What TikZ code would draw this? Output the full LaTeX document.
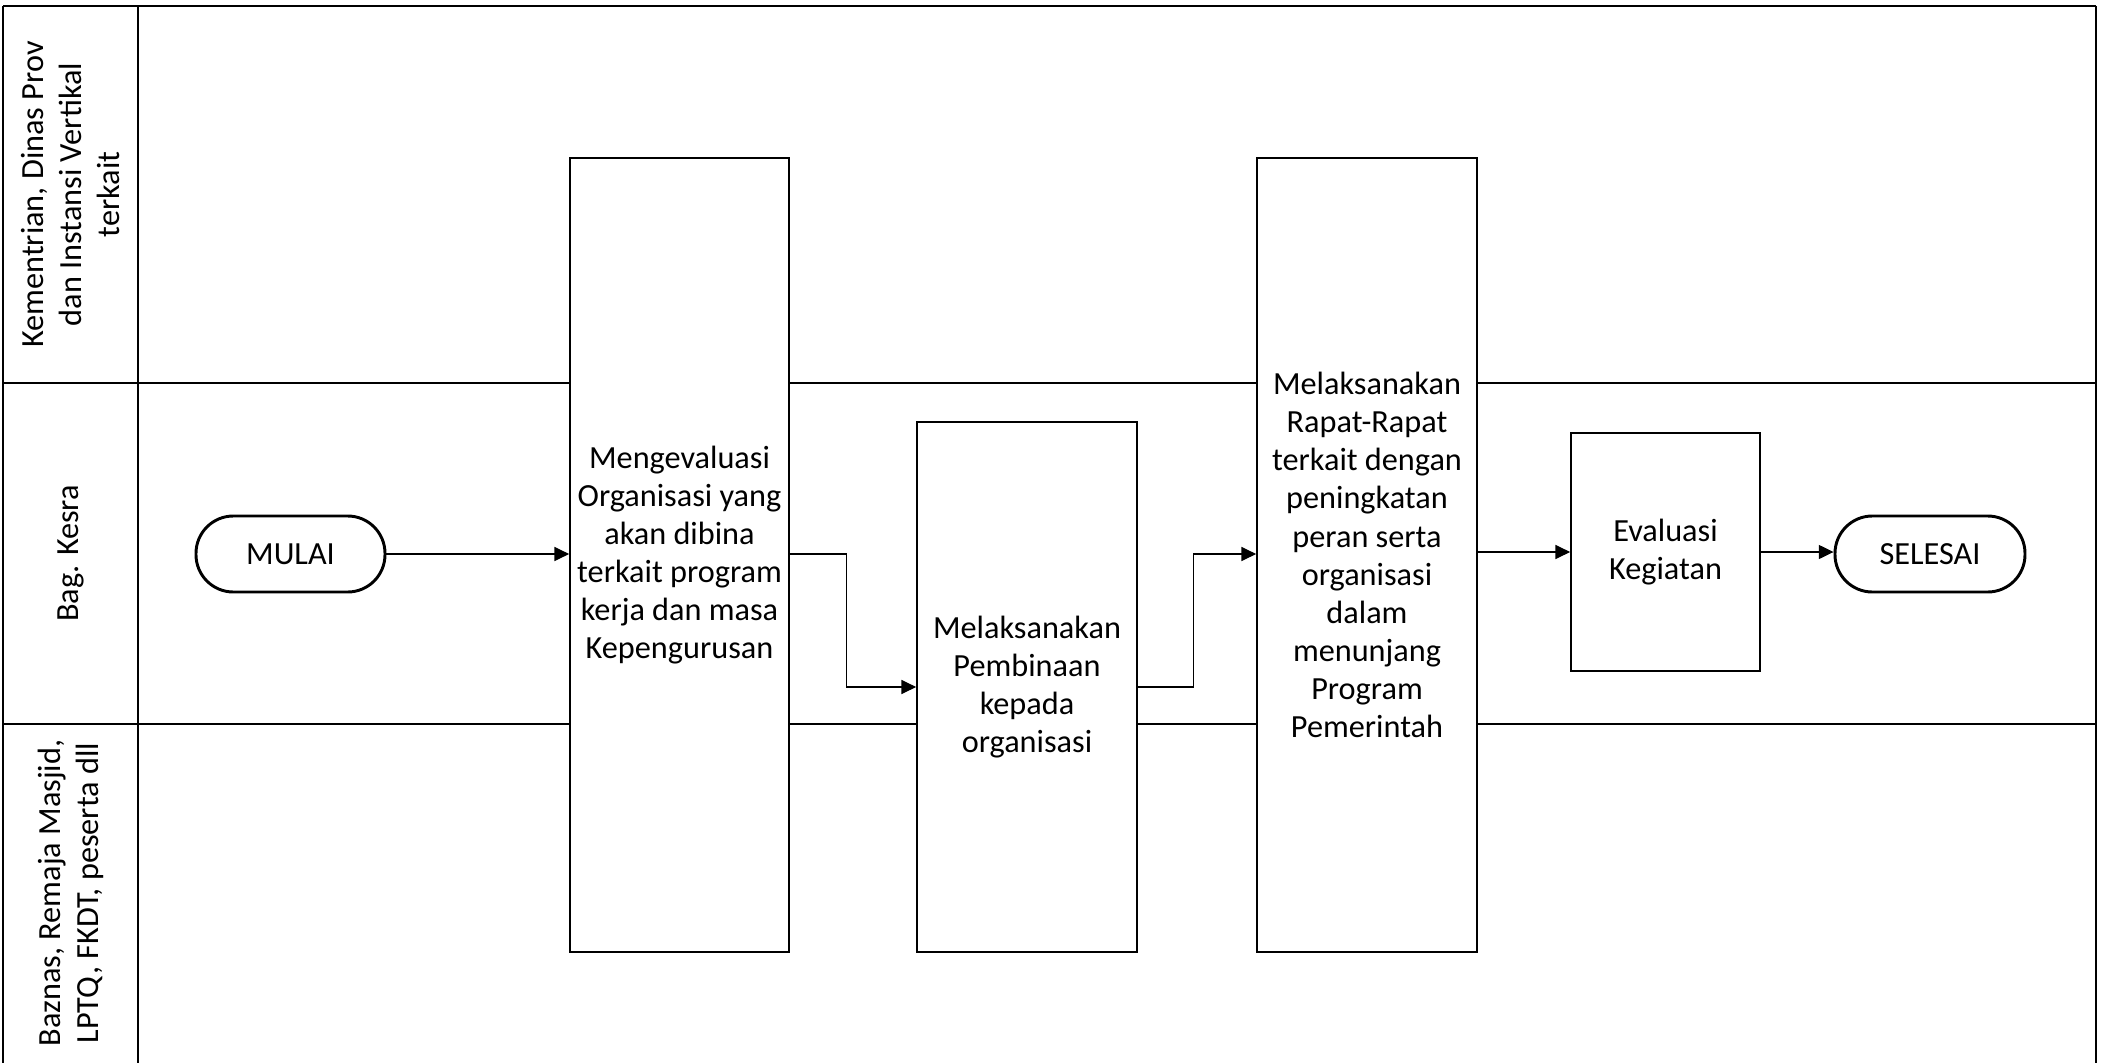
\documentclass[tikz,border=0pt]{standalone}
\usepackage{fontspec}
\setmainfont{Carlito}
\usetikzlibrary{arrows.meta}
\begin{document}
\begin{tikzpicture}[x=0.75pt,y=-0.75pt,
  lane/.style={line width=2pt,draw=black},
  procbox/.style={draw=black,line width=1.3pt,fill=white,rectangle,align=center,inner sep=2pt},
  term/.style={draw=black,line width=2.2pt,fill=white,rounded corners=28pt,align=center,minimum height=57pt},
  lanelabel/.style={rotate=90,align=center},
  arr/.style={draw=black,line width=0.9pt,-{Triangle[length=11pt,width=10.5pt]}},
  every node/.style={font=\fontsize{24.2pt}{28.6pt}\selectfont}
]
\useasboundingbox (0,0) rectangle (2103,1063);
\fill[white] (0,0) rectangle (2103,1063);
% swimlanes
\draw[lane] (3,6) -- (2096,6);
\draw[lane] (3,383) -- (2096,383);
\draw[lane] (3,724) -- (2096,724);
\draw[lane] (3,6) -- (3,1063);
\draw[lane] (138,6) -- (138,1063);
\draw[lane] (2096,6) -- (2096,1063);
\node[lanelabel] (l1) at (70.5,194.5) {Kementrian, Dinas Prov\\dan Instansi Vertikal\\terkait};
\node[lanelabel] (l2) at (70.5,553.5) {Bag. Kesra};
\node[lanelabel] (l3) at (70.5,893) {Baznas, Remaja Masjid,\\LPTQ, FKDT, peserta dll};
% process nodes
\node[term,minimum width=141.75pt] (mulai) at (290.5,554) {MULAI};
\node[procbox,minimum width=164.25pt,minimum height=595.5pt] (b1) at (679.5,555) {Mengevaluasi\\Organisasi yang\\akan dibina\\terkait program\\kerja dan masa\\Kepengurusan};
\node[procbox,minimum width=165pt,minimum height=397.5pt] (b2) at (1027,687) {Melaksanakan\\Pembinaan\\kepada\\organisasi};
\node[procbox,minimum width=165pt,minimum height=595.5pt] (b3) at (1367,555) {Melaksanakan\\Rapat-Rapat\\terkait dengan\\peningkatan\\peran serta\\organisasi\\dalam\\menunjang\\Program\\Pemerintah};
\node[procbox,minimum width=141.75pt,minimum height=178.5pt] (b4) at (1665.5,552) {Evaluasi\\Kegiatan};
\node[term,minimum width=142.5pt] (selesai) at (1930,554) {SELESAI};
% connectors
\draw[arr] (mulai.east) -- (mulai.east -| b1.west);
\draw[arr] (b1.east |- mulai.east) -- ++(57,0) |- (b2.west);
\draw[arr] (b2.east) -- ++(56,0) |- (b3.west |- mulai.east);
\draw[arr] (b3.east |- b4.west) -- (b4.west);
\draw[arr] (b4.east) -- (selesai.west |- b4.east);
\end{tikzpicture}
\end{document}
